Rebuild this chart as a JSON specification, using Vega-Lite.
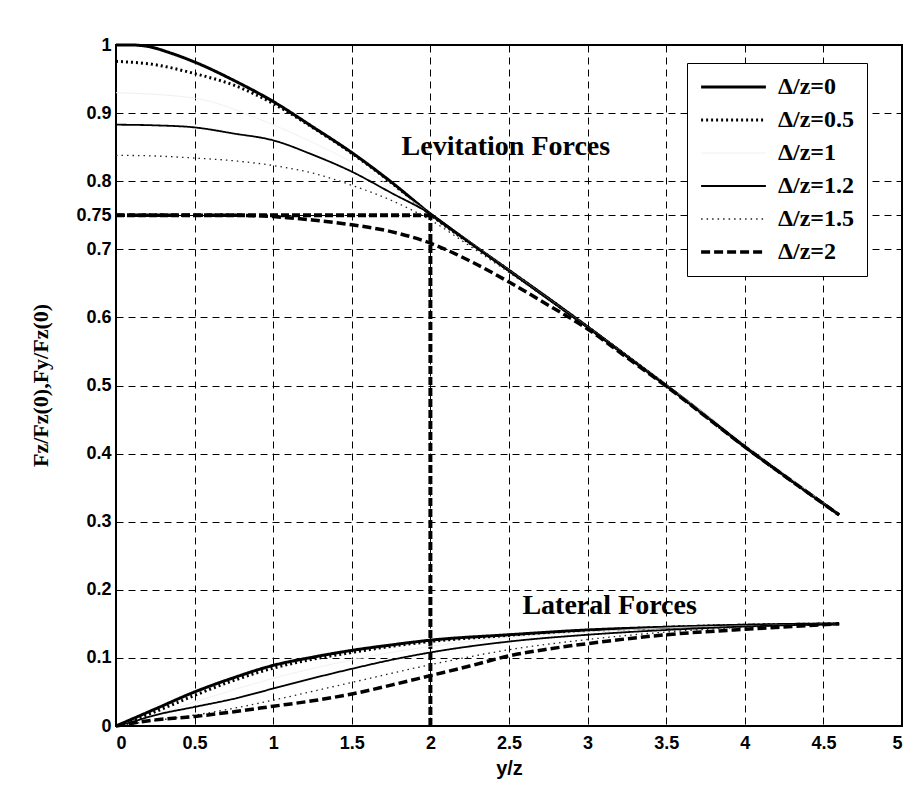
{
  "$schema": "https://vega.github.io/schema/vega-lite/v6.json",
  "width": 786,
  "height": 681,
  "autosize": {"type": "none"},
  "padding": {"left": 116, "top": 45, "right": 13, "bottom": 60},
  "background": "white",
  "datasets": {
    "curves": [
      {"s": "Δ/z=0", "f": "lev", "x": 0, "y": 1.0},
      {"s": "Δ/z=0", "f": "lev", "x": 0.1, "y": 1.0},
      {"s": "Δ/z=0", "f": "lev", "x": 0.2, "y": 0.998},
      {"s": "Δ/z=0", "f": "lev", "x": 0.35, "y": 0.988},
      {"s": "Δ/z=0", "f": "lev", "x": 0.5, "y": 0.975},
      {"s": "Δ/z=0", "f": "lev", "x": 0.75, "y": 0.948},
      {"s": "Δ/z=0", "f": "lev", "x": 1.0, "y": 0.917},
      {"s": "Δ/z=0", "f": "lev", "x": 1.25, "y": 0.88},
      {"s": "Δ/z=0", "f": "lev", "x": 1.5, "y": 0.842},
      {"s": "Δ/z=0", "f": "lev", "x": 1.75, "y": 0.799},
      {"s": "Δ/z=0", "f": "lev", "x": 2.0, "y": 0.752},
      {"s": "Δ/z=0", "f": "lev", "x": 2.25, "y": 0.71},
      {"s": "Δ/z=0", "f": "lev", "x": 2.5, "y": 0.669},
      {"s": "Δ/z=0", "f": "lev", "x": 2.75, "y": 0.628},
      {"s": "Δ/z=0", "f": "lev", "x": 3.0, "y": 0.586},
      {"s": "Δ/z=0", "f": "lev", "x": 3.25, "y": 0.543},
      {"s": "Δ/z=0", "f": "lev", "x": 3.5, "y": 0.5},
      {"s": "Δ/z=0", "f": "lev", "x": 3.75, "y": 0.456},
      {"s": "Δ/z=0", "f": "lev", "x": 4.0, "y": 0.41},
      {"s": "Δ/z=0", "f": "lev", "x": 4.3, "y": 0.36},
      {"s": "Δ/z=0", "f": "lev", "x": 4.6, "y": 0.31},

      {"s": "Δ/z=0.5", "f": "lev", "x": 0, "y": 0.976},
      {"s": "Δ/z=0.5", "f": "lev", "x": 0.25, "y": 0.971},
      {"s": "Δ/z=0.5", "f": "lev", "x": 0.5, "y": 0.958},
      {"s": "Δ/z=0.5", "f": "lev", "x": 0.75, "y": 0.941},
      {"s": "Δ/z=0.5", "f": "lev", "x": 1.0, "y": 0.914},
      {"s": "Δ/z=0.5", "f": "lev", "x": 1.25, "y": 0.879},
      {"s": "Δ/z=0.5", "f": "lev", "x": 1.5, "y": 0.841},
      {"s": "Δ/z=0.5", "f": "lev", "x": 1.75, "y": 0.798},
      {"s": "Δ/z=0.5", "f": "lev", "x": 2.0, "y": 0.751},
      {"s": "Δ/z=0.5", "f": "lev", "x": 2.5, "y": 0.669},
      {"s": "Δ/z=0.5", "f": "lev", "x": 3.0, "y": 0.586},
      {"s": "Δ/z=0.5", "f": "lev", "x": 3.5, "y": 0.5},
      {"s": "Δ/z=0.5", "f": "lev", "x": 4.0, "y": 0.41},
      {"s": "Δ/z=0.5", "f": "lev", "x": 4.6, "y": 0.31},

      {"s": "Δ/z=1", "f": "lev", "x": 0, "y": 0.93},
      {"s": "Δ/z=1", "f": "lev", "x": 0.5, "y": 0.922},
      {"s": "Δ/z=1", "f": "lev", "x": 0.9, "y": 0.892},
      {"s": "Δ/z=1", "f": "lev", "x": 1.25, "y": 0.857},
      {"s": "Δ/z=1", "f": "lev", "x": 1.5, "y": 0.828},
      {"s": "Δ/z=1", "f": "lev", "x": 1.75, "y": 0.792},
      {"s": "Δ/z=1", "f": "lev", "x": 2.0, "y": 0.752},
      {"s": "Δ/z=1", "f": "lev", "x": 2.5, "y": 0.669},
      {"s": "Δ/z=1", "f": "lev", "x": 3.0, "y": 0.586},
      {"s": "Δ/z=1", "f": "lev", "x": 4.6, "y": 0.31},

      {"s": "Δ/z=1.2", "f": "lev", "x": 0, "y": 0.883},
      {"s": "Δ/z=1.2", "f": "lev", "x": 0.25, "y": 0.882},
      {"s": "Δ/z=1.2", "f": "lev", "x": 0.5, "y": 0.879},
      {"s": "Δ/z=1.2", "f": "lev", "x": 0.75, "y": 0.87},
      {"s": "Δ/z=1.2", "f": "lev", "x": 1.0, "y": 0.86},
      {"s": "Δ/z=1.2", "f": "lev", "x": 1.25, "y": 0.839},
      {"s": "Δ/z=1.2", "f": "lev", "x": 1.5, "y": 0.814},
      {"s": "Δ/z=1.2", "f": "lev", "x": 1.75, "y": 0.783},
      {"s": "Δ/z=1.2", "f": "lev", "x": 2.0, "y": 0.752},
      {"s": "Δ/z=1.2", "f": "lev", "x": 2.25, "y": 0.71},
      {"s": "Δ/z=1.2", "f": "lev", "x": 2.5, "y": 0.668},
      {"s": "Δ/z=1.2", "f": "lev", "x": 3.0, "y": 0.585},
      {"s": "Δ/z=1.2", "f": "lev", "x": 3.5, "y": 0.5},
      {"s": "Δ/z=1.2", "f": "lev", "x": 4.0, "y": 0.41},
      {"s": "Δ/z=1.2", "f": "lev", "x": 4.6, "y": 0.31},

      {"s": "Δ/z=1.5", "f": "lev", "x": 0, "y": 0.838},
      {"s": "Δ/z=1.5", "f": "lev", "x": 0.25, "y": 0.837},
      {"s": "Δ/z=1.5", "f": "lev", "x": 0.5, "y": 0.834},
      {"s": "Δ/z=1.5", "f": "lev", "x": 0.75, "y": 0.83},
      {"s": "Δ/z=1.5", "f": "lev", "x": 1.0, "y": 0.823},
      {"s": "Δ/z=1.5", "f": "lev", "x": 1.25, "y": 0.812},
      {"s": "Δ/z=1.5", "f": "lev", "x": 1.5, "y": 0.794},
      {"s": "Δ/z=1.5", "f": "lev", "x": 1.75, "y": 0.772},
      {"s": "Δ/z=1.5", "f": "lev", "x": 2.0, "y": 0.743},
      {"s": "Δ/z=1.5", "f": "lev", "x": 2.25, "y": 0.705},
      {"s": "Δ/z=1.5", "f": "lev", "x": 2.5, "y": 0.666},
      {"s": "Δ/z=1.5", "f": "lev", "x": 3.0, "y": 0.585},
      {"s": "Δ/z=1.5", "f": "lev", "x": 3.5, "y": 0.5},
      {"s": "Δ/z=1.5", "f": "lev", "x": 4.0, "y": 0.41},
      {"s": "Δ/z=1.5", "f": "lev", "x": 4.6, "y": 0.31},

      {"s": "Δ/z=2", "f": "lev", "x": 0, "y": 0.75},
      {"s": "Δ/z=2", "f": "lev", "x": 0.5, "y": 0.75},
      {"s": "Δ/z=2", "f": "lev", "x": 0.75, "y": 0.75},
      {"s": "Δ/z=2", "f": "lev", "x": 1.0, "y": 0.748},
      {"s": "Δ/z=2", "f": "lev", "x": 1.25, "y": 0.743},
      {"s": "Δ/z=2", "f": "lev", "x": 1.5, "y": 0.736},
      {"s": "Δ/z=2", "f": "lev", "x": 1.75, "y": 0.726},
      {"s": "Δ/z=2", "f": "lev", "x": 2.0, "y": 0.709},
      {"s": "Δ/z=2", "f": "lev", "x": 2.25, "y": 0.683},
      {"s": "Δ/z=2", "f": "lev", "x": 2.5, "y": 0.652},
      {"s": "Δ/z=2", "f": "lev", "x": 2.75, "y": 0.618},
      {"s": "Δ/z=2", "f": "lev", "x": 3.0, "y": 0.583},
      {"s": "Δ/z=2", "f": "lev", "x": 3.25, "y": 0.541},
      {"s": "Δ/z=2", "f": "lev", "x": 3.5, "y": 0.499},
      {"s": "Δ/z=2", "f": "lev", "x": 4.0, "y": 0.41},
      {"s": "Δ/z=2", "f": "lev", "x": 4.6, "y": 0.31},

      {"s": "Δ/z=0", "f": "lat", "x": 0, "y": 0},
      {"s": "Δ/z=0", "f": "lat", "x": 0.1, "y": 0.01},
      {"s": "Δ/z=0", "f": "lat", "x": 0.25, "y": 0.025},
      {"s": "Δ/z=0", "f": "lat", "x": 0.5, "y": 0.05},
      {"s": "Δ/z=0", "f": "lat", "x": 0.75, "y": 0.071},
      {"s": "Δ/z=0", "f": "lat", "x": 1.0, "y": 0.089},
      {"s": "Δ/z=0", "f": "lat", "x": 1.25, "y": 0.101},
      {"s": "Δ/z=0", "f": "lat", "x": 1.5, "y": 0.111},
      {"s": "Δ/z=0", "f": "lat", "x": 1.75, "y": 0.119},
      {"s": "Δ/z=0", "f": "lat", "x": 2.0, "y": 0.126},
      {"s": "Δ/z=0", "f": "lat", "x": 2.5, "y": 0.134},
      {"s": "Δ/z=0", "f": "lat", "x": 3.0, "y": 0.141},
      {"s": "Δ/z=0", "f": "lat", "x": 3.5, "y": 0.145},
      {"s": "Δ/z=0", "f": "lat", "x": 4.0, "y": 0.148},
      {"s": "Δ/z=0", "f": "lat", "x": 4.6, "y": 0.15},

      {"s": "Δ/z=0.5", "f": "lat", "x": 0, "y": 0},
      {"s": "Δ/z=0.5", "f": "lat", "x": 0.1, "y": 0.008},
      {"s": "Δ/z=0.5", "f": "lat", "x": 0.25, "y": 0.021},
      {"s": "Δ/z=0.5", "f": "lat", "x": 0.5, "y": 0.045},
      {"s": "Δ/z=0.5", "f": "lat", "x": 0.75, "y": 0.067},
      {"s": "Δ/z=0.5", "f": "lat", "x": 1.0, "y": 0.085},
      {"s": "Δ/z=0.5", "f": "lat", "x": 1.25, "y": 0.098},
      {"s": "Δ/z=0.5", "f": "lat", "x": 1.5, "y": 0.108},
      {"s": "Δ/z=0.5", "f": "lat", "x": 1.75, "y": 0.117},
      {"s": "Δ/z=0.5", "f": "lat", "x": 2.0, "y": 0.124},
      {"s": "Δ/z=0.5", "f": "lat", "x": 2.5, "y": 0.133},
      {"s": "Δ/z=0.5", "f": "lat", "x": 3.0, "y": 0.14},
      {"s": "Δ/z=0.5", "f": "lat", "x": 3.5, "y": 0.145},
      {"s": "Δ/z=0.5", "f": "lat", "x": 4.0, "y": 0.148},
      {"s": "Δ/z=0.5", "f": "lat", "x": 4.6, "y": 0.15},

      {"s": "Δ/z=1", "f": "lat", "x": 0, "y": 0},
      {"s": "Δ/z=1", "f": "lat", "x": 0.25, "y": 0.016},
      {"s": "Δ/z=1", "f": "lat", "x": 0.5, "y": 0.035},
      {"s": "Δ/z=1", "f": "lat", "x": 1.0, "y": 0.07},
      {"s": "Δ/z=1", "f": "lat", "x": 1.5, "y": 0.097},
      {"s": "Δ/z=1", "f": "lat", "x": 2.0, "y": 0.117},
      {"s": "Δ/z=1", "f": "lat", "x": 2.5, "y": 0.13},
      {"s": "Δ/z=1", "f": "lat", "x": 3.0, "y": 0.138},
      {"s": "Δ/z=1", "f": "lat", "x": 3.5, "y": 0.144},
      {"s": "Δ/z=1", "f": "lat", "x": 4.0, "y": 0.147},
      {"s": "Δ/z=1", "f": "lat", "x": 4.6, "y": 0.15},

      {"s": "Δ/z=1.2", "f": "lat", "x": 0, "y": 0},
      {"s": "Δ/z=1.2", "f": "lat", "x": 0.1, "y": 0.006},
      {"s": "Δ/z=1.2", "f": "lat", "x": 0.25, "y": 0.016},
      {"s": "Δ/z=1.2", "f": "lat", "x": 0.5, "y": 0.028},
      {"s": "Δ/z=1.2", "f": "lat", "x": 0.75, "y": 0.04},
      {"s": "Δ/z=1.2", "f": "lat", "x": 1.0, "y": 0.055},
      {"s": "Δ/z=1.2", "f": "lat", "x": 1.25, "y": 0.07},
      {"s": "Δ/z=1.2", "f": "lat", "x": 1.5, "y": 0.084},
      {"s": "Δ/z=1.2", "f": "lat", "x": 1.75, "y": 0.097},
      {"s": "Δ/z=1.2", "f": "lat", "x": 2.0, "y": 0.108},
      {"s": "Δ/z=1.2", "f": "lat", "x": 2.5, "y": 0.124},
      {"s": "Δ/z=1.2", "f": "lat", "x": 3.0, "y": 0.134},
      {"s": "Δ/z=1.2", "f": "lat", "x": 3.5, "y": 0.141},
      {"s": "Δ/z=1.2", "f": "lat", "x": 4.0, "y": 0.146},
      {"s": "Δ/z=1.2", "f": "lat", "x": 4.6, "y": 0.15},

      {"s": "Δ/z=1.5", "f": "lat", "x": 0, "y": 0},
      {"s": "Δ/z=1.5", "f": "lat", "x": 0.25, "y": 0.008},
      {"s": "Δ/z=1.5", "f": "lat", "x": 0.5, "y": 0.016},
      {"s": "Δ/z=1.5", "f": "lat", "x": 0.75, "y": 0.026},
      {"s": "Δ/z=1.5", "f": "lat", "x": 1.0, "y": 0.038},
      {"s": "Δ/z=1.5", "f": "lat", "x": 1.5, "y": 0.064},
      {"s": "Δ/z=1.5", "f": "lat", "x": 2.0, "y": 0.09},
      {"s": "Δ/z=1.5", "f": "lat", "x": 2.5, "y": 0.112},
      {"s": "Δ/z=1.5", "f": "lat", "x": 3.0, "y": 0.127},
      {"s": "Δ/z=1.5", "f": "lat", "x": 3.5, "y": 0.138},
      {"s": "Δ/z=1.5", "f": "lat", "x": 4.0, "y": 0.145},
      {"s": "Δ/z=1.5", "f": "lat", "x": 4.6, "y": 0.15},

      {"s": "Δ/z=2", "f": "lat", "x": 0, "y": 0},
      {"s": "Δ/z=2", "f": "lat", "x": 0.25, "y": 0.009},
      {"s": "Δ/z=2", "f": "lat", "x": 0.5, "y": 0.014},
      {"s": "Δ/z=2", "f": "lat", "x": 0.75, "y": 0.021},
      {"s": "Δ/z=2", "f": "lat", "x": 1.0, "y": 0.029},
      {"s": "Δ/z=2", "f": "lat", "x": 1.25, "y": 0.037},
      {"s": "Δ/z=2", "f": "lat", "x": 1.5, "y": 0.047},
      {"s": "Δ/z=2", "f": "lat", "x": 1.75, "y": 0.06},
      {"s": "Δ/z=2", "f": "lat", "x": 2.0, "y": 0.074},
      {"s": "Δ/z=2", "f": "lat", "x": 2.25, "y": 0.088},
      {"s": "Δ/z=2", "f": "lat", "x": 2.5, "y": 0.103},
      {"s": "Δ/z=2", "f": "lat", "x": 2.75, "y": 0.113},
      {"s": "Δ/z=2", "f": "lat", "x": 3.0, "y": 0.121},
      {"s": "Δ/z=2", "f": "lat", "x": 3.5, "y": 0.134},
      {"s": "Δ/z=2", "f": "lat", "x": 4.0, "y": 0.142},
      {"s": "Δ/z=2", "f": "lat", "x": 4.3, "y": 0.146},
      {"s": "Δ/z=2", "f": "lat", "x": 4.6, "y": 0.15}
    ],
    "refs": [
      {"x": 0, "x2": 2, "y": 0.75, "y2": 0.75},
      {"x": 2, "x2": 2, "y": 0, "y2": 0.75}
    ],
    "notes": [
      {"x": 2.48, "y": 0.85, "label": "Levitation Forces"},
      {"x": 3.14, "y": 0.176, "label": "Lateral Forces"}
    ]
  },
  "encoding": {
    "x": {
      "field": "x",
      "type": "quantitative",
      "scale": {"domain": [0, 5], "nice": false, "zero": false},
      "axis": {
        "values": [0, 0.5, 1, 1.5, 2, 2.5, 3, 3.5, 4, 4.5, 5],
        "format": ".1~f",
        "title": "y/z",
        "titleY": 42,
        "titleBaseline": "middle",
        "labelPadding": 8
      }
    },
    "y": {
      "field": "y",
      "type": "quantitative",
      "scale": {"domain": [0, 1], "nice": false, "zero": false},
      "axis": {
        "values": [0, 0.1, 0.2, 0.3, 0.4, 0.5, 0.6, 0.7, 0.75, 0.8, 0.9, 1],
        "format": ".2~f",
        "title": "Fz/Fz(0),Fy/Fz(0)",
        "titleFont": "Liberation Serif",
        "titleFontSize": 22,
        "titleX": -76,
        "titleY": 340,
        "titleAngle": 270,
        "titleAlign": "center",
        "titleBaseline": "middle",
        "labelPadding": 5
      }
    }
  },
  "layer": [
    {
      "data": {"name": "refs"},
      "mark": {"type": "rule", "color": "black", "strokeWidth": 4, "strokeDash": [8, 3]},
      "encoding": {
        "x2": {"field": "x2"},
        "y2": {"field": "y2"}
      }
    },
    {
      "data": {"name": "curves"},
      "mark": {"type": "line", "strokeCap": "butt", "strokeJoin": "round", "interpolate": "monotone"},
      "encoding": {
        "detail": {"field": "f", "type": "nominal"},
        "color": {
          "field": "s",
          "type": "nominal",
          "scale": {
            "domain": ["Δ/z=0", "Δ/z=0.5", "Δ/z=1", "Δ/z=1.2", "Δ/z=1.5", "Δ/z=2"],
            "range": ["#000000", "#000000", "#f0f0f0", "#000000", "#222222", "#000000"]
          },
          "legend": {"title": null}
        },
        "strokeDash": {
          "field": "s",
          "type": "nominal",
          "scale": {
            "domain": ["Δ/z=0", "Δ/z=0.5", "Δ/z=1", "Δ/z=1.2", "Δ/z=1.5", "Δ/z=2"],
            "range": [[1, 0], [2, 3], [1, 0], [1, 0], [1.5, 4], [9, 4]]
          },
          "legend": {"title": null}
        },
        "strokeWidth": {
          "field": "s",
          "type": "nominal",
          "scale": {
            "type": "ordinal",
            "domain": ["Δ/z=0", "Δ/z=0.5", "Δ/z=1", "Δ/z=1.2", "Δ/z=1.5", "Δ/z=2"],
            "range": [3, 3, 1, 1.8, 1.3, 3.5]
          },
          "legend": {"title": null}
        }
      }
    },
    {
      "data": {"name": "notes"},
      "mark": {"type": "text", "font": "Liberation Serif", "fontWeight": "bold", "fontSize": 28, "color": "black", "align": "center", "baseline": "middle"},
      "encoding": {
        "text": {"field": "label"}
      }
    }
  ],
  "config": {
    "view": {"stroke": "black", "strokeWidth": 2},
    "axis": {
      "domain": false,
      "ticks": false,
      "grid": true,
      "gridColor": "black",
      "gridOpacity": 1,
      "gridWidth": 1,
      "gridDash": [7, 5],
      "labelFont": "Liberation Sans",
      "labelFontWeight": "bold",
      "labelFontSize": 18,
      "labelColor": "black",
      "titleFont": "Liberation Sans",
      "titleFontWeight": "bold",
      "titleFontSize": 20,
      "titleColor": "black"
    },
    "legend": {
      "orient": "none",
      "legendX": 571,
      "legendY": 18,
      "strokeColor": "black",
      "fillColor": "white",
      "padding": 12,
      "symbolType": "stroke",
      "symbolSize": 4200,
      "clipHeight": 24,
      "rowPadding": 9,
      "labelOffset": 10,
      "labelFont": "Liberation Serif",
      "labelFontWeight": "bold",
      "labelFontSize": 24,
      "labelColor": "black"
    }
  }
}
